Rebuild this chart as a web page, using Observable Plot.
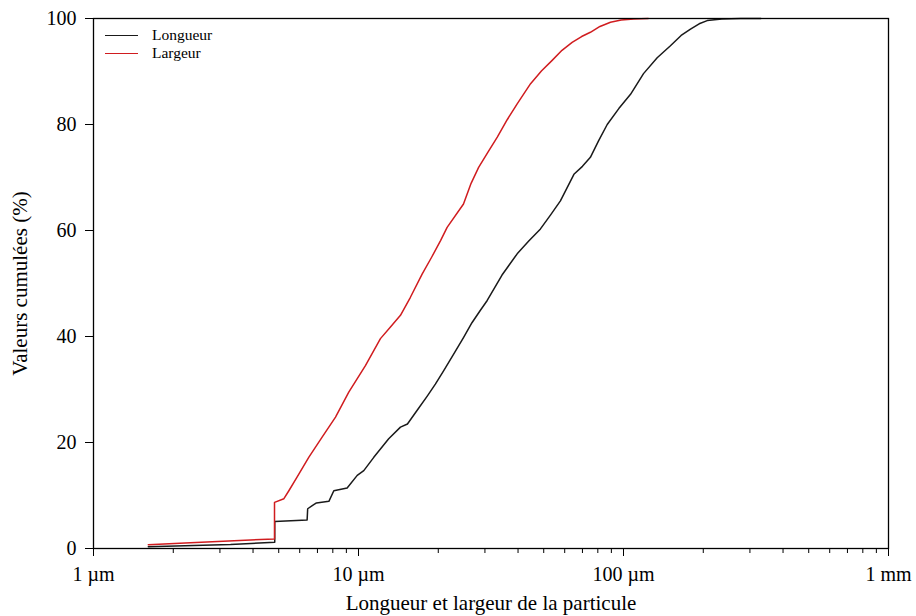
<!DOCTYPE html>
<html>
<head>
<meta charset="utf-8">
<script src="https://cdn.jsdelivr.net/npm/d3@7"></script>
<script src="https://cdn.jsdelivr.net/npm/@observablehq/plot@0.6"></script>
<style>
  html, body { margin: 0; padding: 0; background: #fff; }
  #wrap { position: relative; width: 916px; height: 616px; font-family: "Liberation Serif", serif; }
  #chart svg, #chart svg text { font-family: "Liberation Serif", serif !important; }
  #legend { position: absolute; left: 105px; top: 26px; font-size: 15.5px; color: #000; font-family: "Liberation Serif", serif; }
  #legend .row { display: flex; align-items: center; height: 18px; }
  #legend .sw { width: 33px; height: 0; border-top: 1.8px solid; margin-right: 14px; }
</style>
</head>
<body>
<div id="wrap">
  <div id="chart"></div>
  <div id="legend"></div>
</div>
<script>
// Series names and colours
const seriesNames = ["Longueur", "Largeur"];
const seriesColors = ["#1a1a1a", "#d01c1f"];

// Longueur (length), µm vs cumulative %
const longueurX = [1.61, 3.29, 4.83, 4.83, 6.40, 6.43, 6.69, 6.94, 7.73, 8.07, 9.06, 9.89, 10.47, 11.42, 13.0, 14.4, 15.3, 16.6, 18.2, 19.5, 21.0, 22.8, 24.9, 26.8, 28.8, 30.6, 34.8, 39.7, 43.9, 48.6, 53.0, 57.8, 65.0, 70.0, 75.0, 80.5, 86.8, 96.0, 106.3, 119, 134, 150, 165, 179, 193, 207, 235, 277, 330];
const longueurY = [0.35, 0.75, 1.2, 5.1, 5.4, 7.5, 8.1, 8.6, 8.9, 10.9, 11.4, 13.8, 14.7, 17.2, 20.7, 22.9, 23.5, 26.0, 28.8, 31.0, 33.6, 36.6, 39.8, 42.6, 44.9, 46.8, 51.6, 55.6, 58.0, 60.3, 62.9, 65.6, 70.6, 72.1, 73.8, 76.9, 80.0, 83.0, 85.7, 89.6, 92.6, 94.8, 96.8, 98.0, 99.0, 99.6, 99.9, 100, 100];

// Largeur (width), µm vs cumulative %
const largeurX = [1.61, 2.32, 4.82, 4.82, 5.23, 5.46, 5.87, 6.49, 7.29, 8.19, 9.19, 10.62, 12.1, 13.2, 14.4, 15.7, 17.4, 18.9, 20.4, 21.6, 24.9, 26.6, 28.4, 30.8, 33.4, 36.4, 39.7, 44.6, 49.0, 53.8, 58.6, 64.0, 69.5, 75.0, 81.5, 89.3, 98.0, 109.4, 124];
const largeurY = [0.7, 1.1, 1.8, 8.7, 9.4, 10.9, 13.5, 17.2, 21.0, 24.8, 29.5, 34.5, 39.6, 41.8, 44.0, 47.4, 51.8, 55.0, 58.1, 60.6, 65.0, 68.9, 71.9, 74.8, 77.6, 80.9, 83.9, 87.7, 90.1, 92.1, 94.0, 95.5, 96.6, 97.4, 98.5, 99.3, 99.7, 99.9, 100];

// Ticks
const xMajorTicks = [1, 10, 100, 1000];
const xMajorLabels = ["1 µm", "10 µm", "100 µm", "1 mm"];
const xMinorTicks = [2,3,4,5,6,7,8,9,20,30,40,50,60,70,80,90,200,300,400,500,600,700,800,900];
const yTicks = [0, 20, 40, 60, 80, 100];
const xLabel = "Longueur et largeur de la particule";
const yLabel = "Valeurs cumulées (%)";

const data = [
  ...longueurX.map((x, i) => ({x, y: longueurY[i], s: seriesNames[0]})),
  ...largeurX.map((x, i) => ({x, y: largeurY[i], s: seriesNames[1]}))
];

const chart = Plot.plot({
  width: 916,
  height: 616,
  marginLeft: 93,
  marginRight: 28,
  marginTop: 18,
  marginBottom: 68,
  style: {fontFamily: "'Liberation Serif', serif", color: "#000", background: "#fff"},
  x: {type: "log", domain: [1, 1000]},
  y: {domain: [0, 100]},
  color: {domain: seriesNames, range: seriesColors},
  marks: [
    Plot.axisX({ticks: xMinorTicks, tickSize: 5, tickFormat: () => "", label: null, stroke: "#000"}),
    Plot.axisX({ticks: xMajorTicks, tickSize: 8, tickPadding: 10, fontSize: 20,
      tickFormat: d => xMajorLabels[xMajorTicks.indexOf(d)], label: null, stroke: "#000"}),
    Plot.axisY({ticks: yTicks, tickSize: 8, tickPadding: 9, fontSize: 20, label: null, stroke: "#000"}),
    Plot.line(data, {x: "x", y: "y", z: "s", stroke: "s", strokeWidth: 1.5}),
    Plot.frame({stroke: "#000", strokeWidth: 1.3}),
    Plot.text([xLabel], {frameAnchor: "bottom", text: d => d, dy: 61, fontSize: 21, fill: "#000"}),
    Plot.text([yLabel], {frameAnchor: "left", textAnchor: "middle", text: d => d, rotate: -90, dx: -73, fontSize: 21, fill: "#000"})
  ]
});
document.getElementById("chart").appendChild(chart);

const legend = document.getElementById("legend");
seriesNames.forEach((n, i) => {
  const row = document.createElement("div");
  row.className = "row";
  row.innerHTML = `<span class="sw" style="border-color:${seriesColors[i]}"></span><span>${n}</span>`;
  legend.appendChild(row);
});
</script>
</body>
</html>
